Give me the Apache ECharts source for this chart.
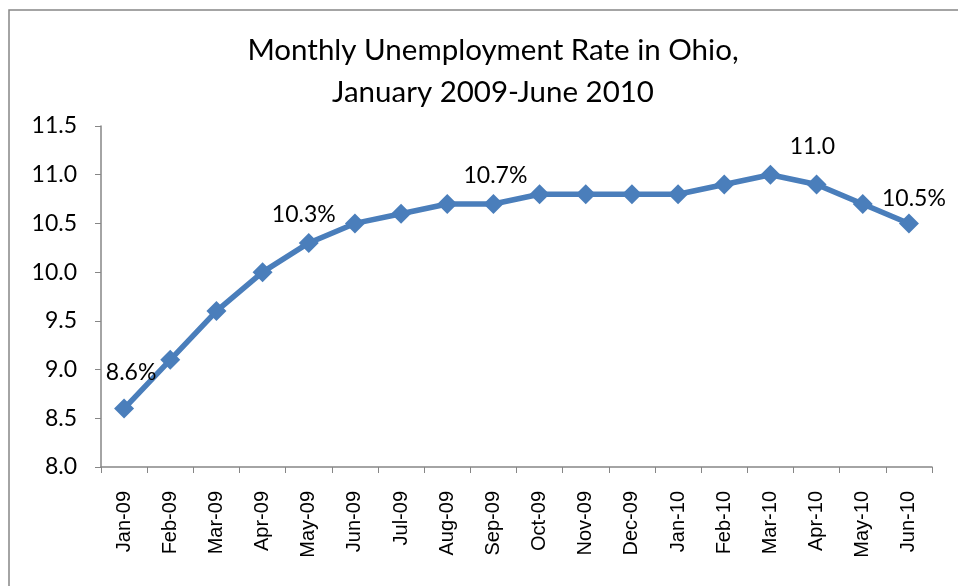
<!DOCTYPE html>
<html>
<head>
<meta charset="utf-8">
<script src="https://cdn.jsdelivr.net/npm/echarts@6/dist/echarts.min.js"></script>
<style>
  html, body { margin: 0; padding: 0; background: #fff; }
  #chart { width: 958px; height: 586px; }
</style>
</head>
<body>
<div id="chart"></div>
<script>
// Ohio monthly unemployment rate, Jan 2009 - Jun 2010
const months = ['Jan-09', 'Feb-09', 'Mar-09', 'Apr-09', 'May-09', 'Jun-09', 'Jul-09', 'Aug-09', 'Sep-09',
  'Oct-09', 'Nov-09', 'Dec-09', 'Jan-10', 'Feb-10', 'Mar-10', 'Apr-10', 'May-10', 'Jun-10'];
const rates = [8.6, 9.1, 9.6, 10.0, 10.3, 10.5, 10.6, 10.7, 10.7,
  10.8, 10.8, 10.8, 10.8, 10.9, 11.0, 10.9, 10.7, 10.5];
// Points that carry a value label, with their label text
const labelledIdx = [0, 4, 8, 14, 17];
const labelText = ['8.6%', '10.3%', '10.7%', '11.0', '10.5%'];
const yTicks = { min: 8.0, max: 11.5, step: 0.5 };

// Label placement around each labelled point
const labelOffsets = [[7, -36], [-5, -28], [2, -28], [42, -28], [5, -25]];

const FONT = 'Lato, "Open Sans", sans-serif';
const CAT_FONT = '"Liberation Sans", Arial, sans-serif';
const lineColor = '#4A7EBB';

const seriesData = rates.map((v, i) => {
  const k = labelledIdx.indexOf(i);
  if (k < 0) return v;
  return {
    value: v,
    label: {
      show: true,
      formatter: labelText[k],
      position: 'inside',
      offset: labelOffsets[k],
      color: '#000',
      fontSize: 23,
      fontFamily: FONT
    }
  };
});

const chart = echarts.init(document.getElementById('chart'));
chart.setOption({
  backgroundColor: '#fff',
  animation: false,
  title: {
    text: 'Monthly Unemployment Rate in Ohio,\nJanuary 2009-June 2010',
    left: 488,
    top: 24,
    textAlign: 'center',
    textStyle: {
      fontFamily: FONT,
      fontSize: 29.5,
      fontWeight: 'normal',
      color: '#000',
      lineHeight: 42
    }
  },
  graphic: [{
    type: 'rect',
    shape: { x: 9, y: 10, width: 980, height: 600 },
    style: { fill: 'none', stroke: '#868686', lineWidth: 1.5 },
    silent: true,
    z: -1
  }],
  grid: { left: 101, right: 26, top: 126, bottom: 119 },
  xAxis: {
    type: 'category',
    data: months,
    boundaryGap: true,
    axisLine: { lineStyle: { color: '#868686', width: 1.5 } },
    axisTick: { show: true, length: 6, alignWithLabel: false, lineStyle: { color: '#868686' } },
    axisLabel: {
      rotate: 90,
      margin: 24,
      fontSize: 20,
      fontFamily: CAT_FONT,
      color: '#000',
      interval: 0
    },
    splitLine: { show: false }
  },
  yAxis: {
    type: 'value',
    min: yTicks.min,
    max: yTicks.max,
    interval: yTicks.step,
    axisLine: { show: true, lineStyle: { color: '#868686', width: 1.5 } },
    axisTick: { show: true, length: 6, lineStyle: { color: '#868686' } },
    axisLabel: {
      formatter: v => v.toFixed(1),
      fontSize: 23,
      fontFamily: FONT,
      color: '#000',
      margin: 24
    },
    splitLine: { show: false }
  },
  series: [{
    type: 'line',
    data: seriesData,
    symbol: 'diamond',
    symbolSize: 20,
    lineStyle: { color: lineColor, width: 5.5 },
    itemStyle: { color: lineColor },
    label: { show: false }
  }]
});
</script>
</body>
</html>
